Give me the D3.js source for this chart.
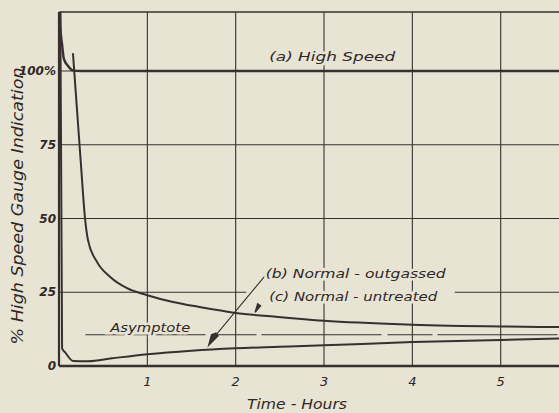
<!DOCTYPE html>
<html>
<head>
<meta charset="utf-8">
<script src="https://cdn.jsdelivr.net/npm/d3@7"></script>
<style>
  body { margin: 0; background: #e7e4d4; }
  svg { display: block; }
  text { font-family: 'DejaVu Sans', sans-serif; font-style: italic; fill: #2f2727; }
</style>
</head>
<body>
<svg id="chart"></svg>
<script>
// hours on x, % of high speed gauge on y
const hourTicks = [1, 2, 3, 4, 5];
const pctTicks = [0, 25, 50, 75, 100];
const pctLabels = ['0', '25', '50', '75', '100%'];

const highSpeedT = [0.012, 0.015, 0.035, 0.056, 0.1, 0.158, 0.25, 5.66];
const highSpeedV = [120, 115, 109, 104, 101.8, 100.2, 100, 100];

const untreatedT = [0.158, 0.204, 0.249, 0.294, 0.328, 0.43, 0.58, 0.77, 1.0, 1.29, 1.59, 2.0, 2.48, 3.0, 4.0, 5.0, 5.66];
const untreatedV = [106, 86.8, 68.1, 50.2, 42.7, 35.3, 30.2, 26.4, 24, 21.7, 20, 18, 16.6, 15.3, 14, 13.4, 13.2];

const outgassedT = [0.015, 0.035, 0.07, 0.16, 0.33, 0.6, 1.0, 1.5, 2.0, 2.5, 3.0, 4.0, 5.0, 5.66];
const outgassedV = [120, 6, 4.6, 1.7, 1.6, 2.6, 4.0, 5.2, 6.0, 6.5, 7.0, 8.1, 8.8, 9.3];

const asymptote = 10.6;
const asymptoteFrom = 0.3;

const width = 559;
const height = 413;
const ink = '#3a2f2f';
const paper = '#e7e4d4';

const svg = d3.select('#chart').attr('width', width).attr('height', height);
svg.append('rect').attr('width', width).attr('height', height).attr('fill', paper);

const x = d3.scaleLinear().domain([0, 5.66]).range([59, 559]);
const y = d3.scaleLinear().domain([0, 120]).range([366, 12]);

const toPts = (ts, vs) => ts.map((t, i) => [t, vs[i]]);
const line = d3.line()
  .x(d => x(d[0]))
  .y(d => y(d[1]))
  .curve(d3.curveMonotoneX);

// grid
const grid = svg.append('g').attr('stroke', ink).attr('stroke-width', 1.1).attr('fill', 'none');
hourTicks.forEach(h => {
  grid.append('line').attr('x1', x(h)).attr('x2', x(h)).attr('y1', y(120)).attr('y2', y(0));
});
[50, 75, 100].forEach(v => {
  grid.append('line').attr('x1', x(0)).attr('x2', x(5.66)).attr('y1', y(v)).attr('y2', y(v));
});
// 25 line is broken where the labels sit
[[0, 2.12], [4.48, 5.66]].forEach(([a, b]) => {
  grid.append('line').attr('x1', x(a)).attr('x2', x(b)).attr('y1', y(25)).attr('y2', y(25));
});

// frame
svg.append('line').attr('x1', x(0)).attr('x2', x(5.66)).attr('y1', y(120)).attr('y2', y(120))
  .attr('stroke', ink).attr('stroke-width', 1.6);
svg.append('line').attr('x1', x(0)).attr('x2', x(0)).attr('y1', y(120)).attr('y2', y(0))
  .attr('stroke', ink).attr('stroke-width', 2.2);
svg.append('line').attr('x1', x(0)).attr('x2', x(5.66)).attr('y1', y(0)).attr('y2', y(0))
  .attr('stroke', ink).attr('stroke-width', 2.4);

// asymptote
svg.append('line')
  .attr('x1', x(asymptoteFrom)).attr('x2', x(5.66))
  .attr('y1', y(asymptote)).attr('y2', y(asymptote))
  .attr('stroke', ink).attr('stroke-width', 1.2)
  .attr('stroke-dasharray', '120,6,45,5');

// curves
[
  [toPts(highSpeedT, highSpeedV), 2.4],
  [toPts(untreatedT, untreatedV), 2],
  [toPts(outgassedT, outgassedV), 2],
].forEach(([pts, w]) => {
  svg.append('path').datum(pts).attr('d', line)
    .attr('fill', 'none').attr('stroke', ink).attr('stroke-width', w);
});

// leader for (b)
svg.append('line')
  .attr('x1', x(2.33)).attr('y1', y(30.5))
  .attr('x2', x(1.79)).attr('y2', y(11))
  .attr('stroke', ink).attr('stroke-width', 1.1);
svg.append('path')
  .attr('d', d3.line()([
    [x(1.78), y(11.4)], [x(1.72), y(10.8)], [x(1.68), y(6.3)], [x(1.81), y(10.2)]
  ]) + 'Z')
  .attr('fill', ink);
// small pointer for (c)
svg.append('path')
  .attr('d', d3.line()([
    [x(2.28), y(20.4)], [x(2.25), y(21)], [x(2.22), y(18.2)]
  ]) + 'Z')
  .attr('fill', ink).attr('stroke', ink).attr('stroke-width', 1.5);

// tick labels
svg.append('g').selectAll('text').data(pctTicks).join('text')
  .attr('x', 56).attr('y', d => y(d) + 4)
  .attr('text-anchor', 'end')
  .attr('font-size', 12)
  .attr('font-weight', 'bold')
  .text((d, i) => pctLabels[i]);
svg.append('g').selectAll('text').data(hourTicks).join('text')
  .attr('x', d => x(d)).attr('y', 386)
  .attr('text-anchor', 'middle')
  .attr('font-size', 13)
  .text(d => d);

// annotations
const label = (t, v, str, len) => {
  svg.append('text')
    .attr('x', x(t)).attr('y', y(v))
    .attr('font-size', 13)
    .attr('textLength', len).attr('lengthAdjust', 'spacingAndGlyphs')
    .attr('stroke', paper).attr('stroke-width', 5).attr('paint-order', 'stroke')
    .text(str);
};
label(2.38, 103.4, '(a) High Speed', 126);
label(2.34, 29.8, '(b) Normal - outgassed', 180);
label(2.38, 22, '(c) Normal - untreated', 168);
label(0.58, 11.6, 'Asymptote', 80);

// axis titles
svg.append('text')
  .attr('x', 297).attr('y', 409)
  .attr('text-anchor', 'middle').attr('font-size', 14)
  .attr('textLength', 100).attr('lengthAdjust', 'spacingAndGlyphs')
  .text('Time - Hours');
svg.append('text')
  .attr('transform', 'translate(23,206) rotate(-90)')
  .attr('text-anchor', 'middle').attr('font-size', 15)
  .attr('textLength', 277).attr('lengthAdjust', 'spacingAndGlyphs')
  .text('% High Speed Gauge Indication');
</script>
</body>
</html>
